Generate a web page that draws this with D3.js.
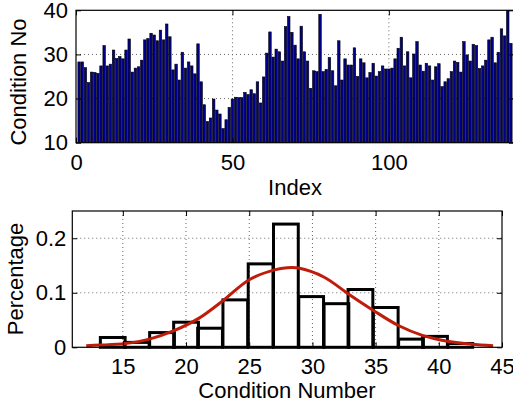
<!DOCTYPE html>
<html>
<head>
<meta charset="utf-8">
<script src="https://cdn.jsdelivr.net/npm/d3@7"></script>
<style>
  body { margin: 0; background: #fff; }
  text { font-family: "Liberation Sans", Arial, Helvetica, sans-serif; }
</style>
</head>
<body>
<div id="chart"></div>
<script>
// condition number per index (top panel)
var condNo = [
  28.3, 28.3, 27.0, 23.6, 26.0, 25.9, 25.7, 27.4, 32.0, 27.4,
  27.8, 31.0, 29.1, 29.5, 29.0, 31.0, 33.5, 26.0, 26.9, 27.2,
  28.7, 33.3, 33.6, 34.8, 34.4, 33.1, 35.5, 33.3, 36.9, 34.0,
  26.5, 27.8, 24.2, 30.5, 26.9, 28.3, 27.4, 25.6, 32.4, 23.8,
  18.6, 14.8, 15.6, 19.9, 17.4, 16.5, 13.2, 15.2, 18.0, 19.9,
  20.3, 20.2, 20.2, 21.4, 20.9, 22.0, 21.1, 23.8, 19.0, 24.9,
  30.3, 35.1, 29.4, 31.2, 30.6, 28.5, 36.3, 38.6, 35.0, 32.1,
  29.0, 36.4, 30.6, 28.5, 22.3, 26.3, 26.1, 39.1, 26.1, 26.6,
  29.3, 26.3, 22.9, 33.1, 24.2, 29.0, 27.6, 27.6, 31.5, 25.0,
  29.0, 28.1, 24.7, 25.9, 28.0, 25.1, 26.1, 27.4, 26.7, 26.7,
  26.9, 29.0, 31.4, 33.9, 27.4, 30.6, 24.7, 30.1, 32.9, 27.6,
  26.2, 28.0, 27.4, 24.2, 27.2, 27.9, 22.7, 23.8, 24.5, 26.1,
  28.5, 28.2, 26.0, 32.9, 29.9, 28.5, 32.3, 32.0, 26.8, 27.4,
  28.7, 33.3, 33.9, 28.1, 30.5, 35.8, 34.2, 42.6, 32.5
];

// histogram (bottom panel): bin centres and fraction per bin
var histCenters = [14.2, 16.1, 18.1, 20.0, 21.9, 23.9, 25.9, 27.9, 29.9, 31.9, 33.8, 35.8, 37.8, 39.7, 41.7];
var histPct = [0.018, 0.009, 0.027, 0.046, 0.035, 0.087, 0.153, 0.226, 0.093, 0.080, 0.106, 0.073, 0.015, 0.020, 0.007];

// fitted curve, points
var fitX = [12.1, 13.2, 15.2, 17.1, 19.0, 21.0, 23.0, 25.0, 27.0, 28.0, 29.0, 30.9, 32.9, 34.8, 36.8, 38.7, 40.7, 42.6, 44.3];
var fitY = [0.003, 0.004, 0.007, 0.015, 0.030, 0.053, 0.087, 0.124, 0.142, 0.146, 0.145, 0.129, 0.097, 0.068, 0.040, 0.022, 0.011, 0.0055, 0.003];

// tick labels
var topXTicks = [0, 50, 100];
var topYTicks = [10, 20, 30, 40];
var botXTicks = [15, 20, 25, 30, 35, 40, 45];
var botYTicks = [0, 0.1, 0.2];

var svgWidth = 513;
var svgHeight = 408;
var fontSize = 22;

var svg = d3.select("#chart")
  .append("svg")
  .attr("width", svgWidth)
  .attr("height", svgHeight);

// Step 1: top panel - bars per index
var upperBox = { left: 76, right: 514, top: 10.3, bottom: 142.7 };

var xTop = d3.scaleLinear().domain([0, 140]).range([upperBox.left, upperBox.right]);
var yTop = d3.scaleLinear().domain([10, 40]).range([upperBox.bottom, upperBox.top]);

svg.append("clipPath")
  .attr("id", "clipTop")
  .append("rect")
  .attr("x", upperBox.left)
  .attr("y", upperBox.top)
  .attr("width", upperBox.right - upperBox.left)
  .attr("height", upperBox.bottom - upperBox.top);

var topGrid = svg.append("g");
topGrid.selectAll("line.gx")
  .data(topXTicks.filter(d => d > 0))
  .enter()
  .append("line")
  .attr("x1", d => xTop(d))
  .attr("x2", d => xTop(d))
  .attr("y1", upperBox.top)
  .attr("y2", upperBox.bottom);
topGrid.selectAll("line.gy")
  .data(topYTicks.filter(d => d > 10 && d < 40))
  .enter()
  .append("line")
  .attr("x1", upperBox.left)
  .attr("x2", upperBox.right)
  .attr("y1", d => yTop(d))
  .attr("y2", d => yTop(d));
topGrid.selectAll("line")
  .attr("stroke", "#666")
  .attr("stroke-width", 1)
  .attr("stroke-dasharray", "1,3");

var barStep = xTop(1) - xTop(0);
svg.append("g")
  .attr("clip-path", "url(#clipTop)")
  .selectAll("rect")
  .data(condNo)
  .enter()
  .append("rect")
  .attr("x", (d, i) => xTop(i + 1) - barStep * 0.4)
  .attr("width", barStep * 0.8)
  .attr("y", d => yTop(d))
  .attr("height", d => yTop(10) - yTop(d))
  .attr("fill", "#00008a")
  .attr("stroke", "#000")
  .attr("stroke-width", 0.6);

// axes with inward ticks
svg.append("g")
  .attr("transform", `translate(0, ${upperBox.bottom})`)
  .call(d3.axisBottom(xTop).tickValues(topXTicks).tickSize(-5).tickPadding(12));
svg.append("g")
  .attr("transform", `translate(${upperBox.left}, 0)`)
  .call(d3.axisLeft(yTop).tickValues(topYTicks).tickSize(-5).tickPadding(8));
svg.append("g")
  .attr("transform", `translate(0, ${upperBox.top})`)
  .call(d3.axisTop(xTop).tickValues(topXTicks).tickSize(-5).tickFormat(""));
svg.append("g")
  .attr("transform", `translate(${upperBox.right}, 0)`)
  .call(d3.axisRight(yTop).tickValues(topYTicks).tickSize(-5).tickFormat(""));

svg.append("rect")
  .attr("x", upperBox.left)
  .attr("y", upperBox.top)
  .attr("width", upperBox.right - upperBox.left)
  .attr("height", upperBox.bottom - upperBox.top)
  .attr("fill", "none")
  .attr("stroke", "#000")
  .attr("stroke-width", 1.2);

svg.append("text")
  .attr("x", 295)
  .attr("y", 195)
  .attr("text-anchor", "middle")
  .text("Index");

svg.append("text")
  .attr("transform", "translate(26, 82) rotate(-90)")
  .attr("text-anchor", "middle")
  .text("Condition No");

// Step 2: bottom panel - histogram with fitted curve
var lowerBox = { left: 72.3, right: 502, top: 211, bottom: 347.3 };

var xBot = d3.scaleLinear().domain([11, 45]).range([lowerBox.left, lowerBox.right]);
var yBot = d3.scaleLinear().domain([0, 0.25]).range([lowerBox.bottom, lowerBox.top]);

var botGrid = svg.append("g");
botGrid.selectAll("line.gx")
  .data(botXTicks.filter(d => d < 45))
  .enter()
  .append("line")
  .attr("x1", d => xBot(d))
  .attr("x2", d => xBot(d))
  .attr("y1", lowerBox.top)
  .attr("y2", lowerBox.bottom);
botGrid.selectAll("line.gy")
  .data(botYTicks.filter(d => d > 0))
  .enter()
  .append("line")
  .attr("x1", lowerBox.left)
  .attr("x2", lowerBox.right)
  .attr("y1", d => yBot(d))
  .attr("y2", d => yBot(d));
botGrid.selectAll("line")
  .attr("stroke", "#666")
  .attr("stroke-width", 1)
  .attr("stroke-dasharray", "1,3");

var binWidth = 1.96;
svg.append("g")
  .selectAll("rect")
  .data(histPct)
  .enter()
  .append("rect")
  .attr("x", (d, i) => xBot(histCenters[i] - binWidth / 2))
  .attr("width", xBot(binWidth) - xBot(0))
  .attr("y", d => yBot(d))
  .attr("height", d => yBot(0) - yBot(d))
  .attr("fill", "none")
  .attr("stroke", "#000")
  .attr("stroke-width", 3);

var fitLine = d3.line()
  .x(d => xBot(d[0]))
  .y(d => yBot(d[1]))
  .curve(d3.curveCatmullRom);

svg.append("path")
  .datum(fitX.map((x, i) => [x, fitY[i]]))
  .attr("d", fitLine)
  .attr("fill", "none")
  .attr("stroke", "#c01c0c")
  .attr("stroke-width", 3);

svg.append("g")
  .attr("transform", `translate(0, ${lowerBox.bottom})`)
  .call(d3.axisBottom(xBot).tickValues(botXTicks).tickSize(-5).tickPadding(11));
svg.append("g")
  .attr("transform", `translate(${lowerBox.left}, 0)`)
  .call(d3.axisLeft(yBot).tickValues(botYTicks).tickSize(-5).tickPadding(6).tickFormat(d => String(d)));
svg.append("g")
  .attr("transform", `translate(0, ${lowerBox.top})`)
  .call(d3.axisTop(xBot).tickValues(botXTicks).tickSize(-5).tickFormat(""));
svg.append("g")
  .attr("transform", `translate(${lowerBox.right}, 0)`)
  .call(d3.axisRight(yBot).tickValues(botYTicks).tickSize(-5).tickFormat(""));

svg.append("rect")
  .attr("x", lowerBox.left)
  .attr("y", lowerBox.top)
  .attr("width", lowerBox.right - lowerBox.left)
  .attr("height", lowerBox.bottom - lowerBox.top)
  .attr("fill", "none")
  .attr("stroke", "#000")
  .attr("stroke-width", 1.2);

svg.append("text")
  .attr("x", 287)
  .attr("y", 398)
  .attr("text-anchor", "middle")
  .text("Condition Number");

svg.append("text")
  .attr("transform", "translate(23, 279) rotate(-90)")
  .attr("text-anchor", "middle")
  .text("Percentage");

// common styling for all text and axis parts
svg.selectAll(".domain").remove();
svg.selectAll(".tick line").attr("stroke", "#000");
svg.selectAll("text")
  .attr("font-size", fontSize)
  .attr("font-family", "'Liberation Sans', Arial, Helvetica, sans-serif")
  .attr("fill", "#000");
</script>
</body>
</html>
